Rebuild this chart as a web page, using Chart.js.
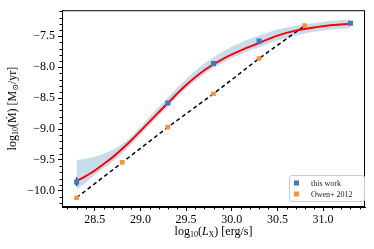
<!DOCTYPE html>
<html lang="en">
<head>
<meta charset="UTF-8">
<title>Mdot vs Lx</title>
<script src="https://cdn.jsdelivr.net/npm/chart.js"></script>
<style>
    body { margin: 0; background: #fff; }
    #wrap { width: 374px; height: 249px; }
</style>
</head>
<body>
<div id="wrap"><canvas id="chart" width="374" height="249"></canvas></div>
<script>
    // "this work" points
    const workLx = [28.3, 29.3, 29.8, 30.3, 31.3];
    const workMdot = [-9.855, -8.58, -7.94, -7.58, -7.29];
    // error bar on the first point
    const errLx = [28.3, 28.3];
    const errMdot = [-9.78, -9.92];

    // Owen+ 2012
    const owenLx = [28.3, 28.8, 29.3, 29.8, 30.3, 30.8];
    const owenMdot = [-10.11, -9.54, -8.97, -8.43, -7.86, -7.33];

    // fit curve and its band
    const fitLx = [28.3, 28.4, 28.5, 28.6, 28.7, 28.8, 28.9, 29.1, 29.3, 29.5, 29.7, 29.9, 30.1, 30.3, 30.5, 30.7, 30.9, 31.1, 31.3];
    const fitMdot = [-9.84, -9.76, -9.67, -9.56, -9.45, -9.32, -9.18, -8.88, -8.58, -8.29, -8.05, -7.87, -7.73, -7.61, -7.49, -7.41, -7.36, -7.32, -7.30];
    const bandHi = [-9.50, -9.48, -9.45, -9.40, -9.33, -9.24, -9.12, -8.80, -8.49, -8.19, -7.94, -7.75, -7.60, -7.49, -7.39, -7.33, -7.29, -7.25, -7.23];
    const bandLo = [-9.98, -9.87, -9.74, -9.63, -9.52, -9.39, -9.25, -8.94, -8.64, -8.35, -8.11, -7.93, -7.79, -7.68, -7.57, -7.49, -7.43, -7.39, -7.37];

    const xTicks = [28.5, 29.0, 29.5, 30.0, 30.5, 31.0];
    const yTicks = [-10.0, -9.5, -9.0, -8.5, -8.0, -7.5];

    const serif = '"Liberation Serif", "DejaVu Serif", serif';
    const pts = (xs, ys) => xs.map((x, i) => ({ x: x, y: ys[i] }));
    const fmt = v => (v < 0 ? '\u2212' : '') + Math.abs(v).toFixed(1);

    function drawParts(ctx, parts, cx, cy) {
        let total = 0;
        parts.forEach(p => {
            ctx.font = (p.italic ? 'italic ' : '') + p.size + 'px ' + serif;
            p.w = ctx.measureText(p.t).width;
            total += p.w;
        });
        let x = cx - total / 2;
        ctx.textBaseline = 'middle';
        ctx.textAlign = 'left';
        parts.forEach(p => {
            ctx.font = (p.italic ? 'italic ' : '') + p.size + 'px ' + serif;
            ctx.fillText(p.t, x, cy + (p.dy || 0));
            x += p.w;
        });
    }

    const framePlugin = {
        id: 'frame',
        afterDraw(chart) {
            const ctx = chart.ctx;
            const a = chart.chartArea;
            const xs = chart.scales.x, ys = chart.scales.y;
            ctx.save();
            ctx.strokeStyle = '#000';
            ctx.lineWidth = 1;
            ctx.strokeRect(a.left + 0.5, a.top + 0.5, a.right - a.left - 1, a.bottom - a.top - 1);

            // minor ticks
            ctx.beginPath();
            for (let i = 282; i <= 314; i++) {
                const v = i / 10;
                if (i % 5 === 0) continue;
                const px = Math.round(xs.getPixelForValue(v)) + 0.5;
                if (px < a.left || px > a.right) continue;
                ctx.moveTo(px, a.bottom);
                ctx.lineTo(px, a.bottom + 2.5);
            }
            for (let i = -102; i <= -71; i++) {
                const v = i / 10;
                if (i % 5 === 0) continue;
                const py = Math.round(ys.getPixelForValue(v)) + 0.5;
                if (py < a.top || py > a.bottom) continue;
                ctx.moveTo(a.left, py);
                ctx.lineTo(a.left - 2.5, py);
            }
            ctx.stroke();

            // legend
            const lx = 289, ly = 175, lw = 75, lh = 26;
            ctx.fillStyle = 'rgba(255,255,255,0.85)';
            ctx.strokeStyle = '#cccccc';
            ctx.lineWidth = 1;
            ctx.beginPath();
            ctx.roundRect(lx + 0.5, ly + 0.5, lw, lh, 2);
            ctx.fill();
            ctx.stroke();
            ctx.fillStyle = '#3b7bbd';
            ctx.fillRect(294, 180.5, 5, 5);
            ctx.fillStyle = '#f7923d';
            ctx.fillRect(294, 191.5, 5, 5);
            ctx.fillStyle = '#222';
            ctx.font = '8px ' + serif;
            ctx.textBaseline = 'middle';
            ctx.textAlign = 'left';
            ctx.fillText('this work', 311, 183.5);
            ctx.fillText('Owen+ 2012', 311, 194.5);

            // axis labels
            ctx.fillStyle = '#000';
            drawParts(ctx, [
                { t: 'log', size: 12 },
                { t: '10', size: 8, dy: 3 },
                { t: '(', size: 12 },
                { t: 'L', size: 12, italic: true },
                { t: 'X', size: 8, dy: 3 },
                { t: ') [erg/s]', size: 12 }
            ], (a.left + a.right) / 2, 232);

            ctx.save();
            ctx.translate(13, (a.top + a.bottom) / 2);
            ctx.rotate(-Math.PI / 2);
            drawParts(ctx, [
                { t: 'log', size: 12 },
                { t: '10', size: 8, dy: 3 },
                { t: '(\u1E40) [M', size: 12 },
                { t: '\u2299', size: 8, dy: 3 },
                { t: '/yr]', size: 12 }
            ], 0, 0);
            ctx.restore();
            ctx.restore();
        }
    };

    new Chart(document.getElementById('chart'), {
        type: 'scatter',
        data: {
            datasets: [
                {
                    data: pts(fitLx, bandLo),
                    showLine: true,
                    borderWidth: 0,
                    borderColor: 'rgba(0,0,0,0)',
                    pointRadius: 0,
                    cubicInterpolationMode: 'monotone',
                    fill: false,
                    order: 10
                },
                {
                    data: pts(fitLx, bandHi),
                    showLine: true,
                    borderWidth: 0,
                    borderColor: 'rgba(0,0,0,0)',
                    backgroundColor: 'rgba(31,119,180,0.25)',
                    pointRadius: 0,
                    cubicInterpolationMode: 'monotone',
                    fill: '-1',
                    order: 9
                },
                {
                    data: pts(fitLx, fitMdot),
                    showLine: true,
                    borderColor: '#ff0000',
                    borderWidth: 2,
                    pointRadius: 0,
                    cubicInterpolationMode: 'monotone',
                    order: 5
                },
                {
                    data: pts(owenLx, owenMdot),
                    showLine: true,
                    borderColor: '#000',
                    borderWidth: 1.5,
                    borderDash: [4, 3],
                    pointRadius: 0,
                    order: 5
                },
                {
                    data: pts(errLx, errMdot),
                    showLine: true,
                    borderColor: '#1f3f66',
                    borderWidth: 1.5,
                    pointRadius: 0,
                    order: 3
                },
                {
                    data: pts(workLx, workMdot),
                    pointStyle: 'rect',
                    pointRadius: 3.6,
                    backgroundColor: '#3b7bbd',
                    borderWidth: 0,
                    order: 1
                },
                {
                    data: pts(owenLx, owenMdot),
                    pointStyle: 'rect',
                    pointRadius: 3.3,
                    backgroundColor: '#f7923d',
                    borderWidth: 0,
                    order: 1
                }
            ]
        },
        options: {
            responsive: false,
            animation: false,
            layout: { padding: { top: 9, right: 9, left: 0, bottom: 0 } },
            plugins: { legend: { display: false }, tooltip: { enabled: false } },
            scales: {
                x: {
                    type: 'linear',
                    min: 28.14,
                    max: 31.46,
                    afterFit: s => { s.height = 42; },
                    afterBuildTicks: s => { s.ticks = xTicks.map(v => ({ value: v })); },
                    grid: { drawOnChartArea: false, tickLength: 4, color: '#000' },
                    border: { color: '#000' },
                    ticks: {
                        color: '#000',
                        padding: 2,
                        maxRotation: 0,
                        font: { family: serif, size: 12 },
                        callback: v => fmt(v)
                    }
                },
                y: {
                    min: -10.26,
                    max: -7.08,
                    afterFit: s => { s.width = 62; },
                    afterBuildTicks: s => { s.ticks = yTicks.map(v => ({ value: v })); },
                    grid: { drawOnChartArea: false, tickLength: 4, color: '#000' },
                    border: { color: '#000' },
                    ticks: {
                        color: '#000',
                        padding: 3,
                        font: { family: serif, size: 12 },
                        callback: v => fmt(v)
                    }
                }
            }
        },
        plugins: [framePlugin]
    });
</script>
</body>
</html>
